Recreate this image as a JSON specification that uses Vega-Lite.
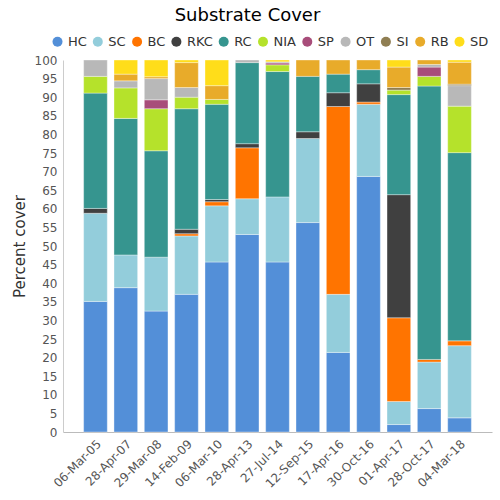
{
  "$schema": "https://vega.github.io/schema/vega-lite/v6.json",
  "width": 429,
  "height": 372,
  "autosize": {"type": "none"},
  "padding": {"left": 63, "top": 60, "right": 8, "bottom": 68},
  "title": {"text": "Substrate Cover", "fontSize": 18, "font": "DejaVu Sans", "fontWeight": "normal", "color": "#000", "anchor": "middle", "frame": "group", "dx": -30, "offset": 10},
  "config": {
    "view": {"stroke": null},
    "font": "DejaVu Sans"
  },
  "data": {"values": [
    {"date": "06-Mar-05", "type": "HC", "value": 35.1},
    {"date": "06-Mar-05", "type": "SC", "value": 23.7},
    {"date": "06-Mar-05", "type": "RKC", "value": 1.3},
    {"date": "06-Mar-05", "type": "RC", "value": 31.0},
    {"date": "06-Mar-05", "type": "NIA", "value": 4.5},
    {"date": "06-Mar-05", "type": "OT", "value": 4.4},
    {"date": "28-Apr-07", "type": "HC", "value": 38.8},
    {"date": "28-Apr-07", "type": "SC", "value": 8.8},
    {"date": "28-Apr-07", "type": "RC", "value": 36.7},
    {"date": "28-Apr-07", "type": "NIA", "value": 8.2},
    {"date": "28-Apr-07", "type": "OT", "value": 1.9},
    {"date": "28-Apr-07", "type": "RB", "value": 1.8},
    {"date": "28-Apr-07", "type": "SD", "value": 3.8},
    {"date": "29-Mar-08", "type": "HC", "value": 32.5},
    {"date": "29-Mar-08", "type": "SC", "value": 14.5},
    {"date": "29-Mar-08", "type": "RC", "value": 28.6},
    {"date": "29-Mar-08", "type": "NIA", "value": 11.3},
    {"date": "29-Mar-08", "type": "SP", "value": 2.4},
    {"date": "29-Mar-08", "type": "OT", "value": 5.7},
    {"date": "29-Mar-08", "type": "RB", "value": 0.5},
    {"date": "29-Mar-08", "type": "SD", "value": 4.5},
    {"date": "14-Feb-09", "type": "HC", "value": 37.0},
    {"date": "14-Feb-09", "type": "SC", "value": 15.7},
    {"date": "14-Feb-09", "type": "BC", "value": 0.6},
    {"date": "14-Feb-09", "type": "RKC", "value": 1.2},
    {"date": "14-Feb-09", "type": "RC", "value": 32.4},
    {"date": "14-Feb-09", "type": "NIA", "value": 3.1},
    {"date": "14-Feb-09", "type": "OT", "value": 2.6},
    {"date": "14-Feb-09", "type": "RB", "value": 6.7},
    {"date": "14-Feb-09", "type": "SD", "value": 0.7},
    {"date": "06-Mar-10", "type": "HC", "value": 45.7},
    {"date": "06-Mar-10", "type": "SC", "value": 15.1},
    {"date": "06-Mar-10", "type": "BC", "value": 1.1},
    {"date": "06-Mar-10", "type": "RKC", "value": 0.6},
    {"date": "06-Mar-10", "type": "RC", "value": 25.6},
    {"date": "06-Mar-10", "type": "NIA", "value": 1.3},
    {"date": "06-Mar-10", "type": "RB", "value": 3.7},
    {"date": "06-Mar-10", "type": "SD", "value": 6.9},
    {"date": "28-Apr-13", "type": "HC", "value": 53.1},
    {"date": "28-Apr-13", "type": "SC", "value": 9.6},
    {"date": "28-Apr-13", "type": "BC", "value": 13.7},
    {"date": "28-Apr-13", "type": "RKC", "value": 1.1},
    {"date": "28-Apr-13", "type": "RC", "value": 21.8},
    {"date": "28-Apr-13", "type": "OT", "value": 0.7},
    {"date": "27-Jul-14", "type": "HC", "value": 45.7},
    {"date": "27-Jul-14", "type": "SC", "value": 17.5},
    {"date": "27-Jul-14", "type": "RC", "value": 33.7},
    {"date": "27-Jul-14", "type": "NIA", "value": 1.8},
    {"date": "27-Jul-14", "type": "SP", "value": 0.5},
    {"date": "27-Jul-14", "type": "OT", "value": 0.3},
    {"date": "27-Jul-14", "type": "SD", "value": 0.5},
    {"date": "12-Sep-15", "type": "HC", "value": 56.3},
    {"date": "12-Sep-15", "type": "SC", "value": 22.6},
    {"date": "12-Sep-15", "type": "RKC", "value": 1.8},
    {"date": "12-Sep-15", "type": "RC", "value": 14.9},
    {"date": "12-Sep-15", "type": "RB", "value": 4.4},
    {"date": "17-Apr-16", "type": "HC", "value": 21.4},
    {"date": "17-Apr-16", "type": "SC", "value": 15.6},
    {"date": "17-Apr-16", "type": "BC", "value": 50.5},
    {"date": "17-Apr-16", "type": "RKC", "value": 3.7},
    {"date": "17-Apr-16", "type": "RC", "value": 5.0},
    {"date": "17-Apr-16", "type": "RB", "value": 3.8},
    {"date": "30-Oct-16", "type": "HC", "value": 68.7},
    {"date": "30-Oct-16", "type": "SC", "value": 19.4},
    {"date": "30-Oct-16", "type": "BC", "value": 0.6},
    {"date": "30-Oct-16", "type": "RKC", "value": 4.9},
    {"date": "30-Oct-16", "type": "RC", "value": 3.8},
    {"date": "30-Oct-16", "type": "RB", "value": 2.6},
    {"date": "01-Apr-17", "type": "HC", "value": 2.0},
    {"date": "01-Apr-17", "type": "SC", "value": 6.2},
    {"date": "01-Apr-17", "type": "BC", "value": 22.5},
    {"date": "01-Apr-17", "type": "RKC", "value": 33.1},
    {"date": "01-Apr-17", "type": "RC", "value": 26.9},
    {"date": "01-Apr-17", "type": "NIA", "value": 1.2},
    {"date": "01-Apr-17", "type": "SI", "value": 0.7},
    {"date": "01-Apr-17", "type": "RB", "value": 5.5},
    {"date": "01-Apr-17", "type": "SD", "value": 1.9},
    {"date": "28-Oct-17", "type": "HC", "value": 6.3},
    {"date": "28-Oct-17", "type": "SC", "value": 12.5},
    {"date": "28-Oct-17", "type": "BC", "value": 0.7},
    {"date": "28-Oct-17", "type": "RC", "value": 73.5},
    {"date": "28-Oct-17", "type": "NIA", "value": 2.6},
    {"date": "28-Oct-17", "type": "SP", "value": 2.5},
    {"date": "28-Oct-17", "type": "OT", "value": 0.7},
    {"date": "28-Oct-17", "type": "RB", "value": 1.2},
    {"date": "04-Mar-18", "type": "HC", "value": 3.8},
    {"date": "04-Mar-18", "type": "SC", "value": 19.4},
    {"date": "04-Mar-18", "type": "BC", "value": 1.3},
    {"date": "04-Mar-18", "type": "RC", "value": 50.6},
    {"date": "04-Mar-18", "type": "NIA", "value": 12.5},
    {"date": "04-Mar-18", "type": "OT", "value": 5.5},
    {"date": "04-Mar-18", "type": "SI", "value": 0.4},
    {"date": "04-Mar-18", "type": "RB", "value": 5.9},
    {"date": "04-Mar-18", "type": "SD", "value": 0.6}
  ]},
  "transform": [
    {"calculate": "indexof(['HC','SC','BC','RKC','RC','NIA','SP','OT','SI','RB','SD'], datum.type)", "as": "stackKey"}
  ],
  "mark": {"type": "bar", "stroke": "white", "strokeWidth": 0.6, "strokeOpacity": 0.6},
  "encoding": {
    "x": {
      "field": "date", "type": "nominal", "sort": null,
      "scale": {"paddingInner": 0.22, "paddingOuter": 0.68},
      "axis": {"title": null, "labelAngle": -45, "labelFontSize": 12, "labelColor": "#555", "ticks": false, "domainColor": "#bbb", "labelPadding": 6}
    },
    "y": {
      "field": "value", "type": "quantitative", "stack": "zero",
      "scale": {"domain": [0, 100], "nice": false},
      "axis": {"title": "Percent cover", "titleFontSize": 15, "titleFontWeight": "normal", "titleColor": "#333", "titlePadding": 7, "values": [0,5,10,15,20,25,30,35,40,45,50,55,60,65,70,75,80,85,90,95,100], "labelFontSize": 12, "labelColor": "#555", "grid": false, "ticks": false, "domainColor": "#ccc", "labelPadding": 6}
    },
    "order": {"field": "stackKey", "type": "quantitative", "sort": "ascending"},
    "color": {
      "field": "type", "type": "nominal",
      "sort": ["HC","SC","BC","RKC","RC","NIA","SP","OT","SI","RB","SD"],
      "scale": {
        "domain": ["HC","SC","BC","RKC","RC","NIA","SP","OT","SI","RB","SD"],
        "range": ["#538fd8","#93cddb","#ff7400","#404040","#36958f","#b5e22b","#a84d7a","#b8b8b8","#8f7e52","#e8ab2a","#ffdd1a"]
      },
      "legend": {"title": null, "orient": "none", "legendX": -12, "legendY": -25, "direction": "horizontal", "symbolType": "circle", "symbolSize": 100, "symbolStrokeWidth": 0, "labelFontSize": 13, "labelColor": "#333", "columnPadding": 4.3, "labelOffset": 4}
    }
  }
}
